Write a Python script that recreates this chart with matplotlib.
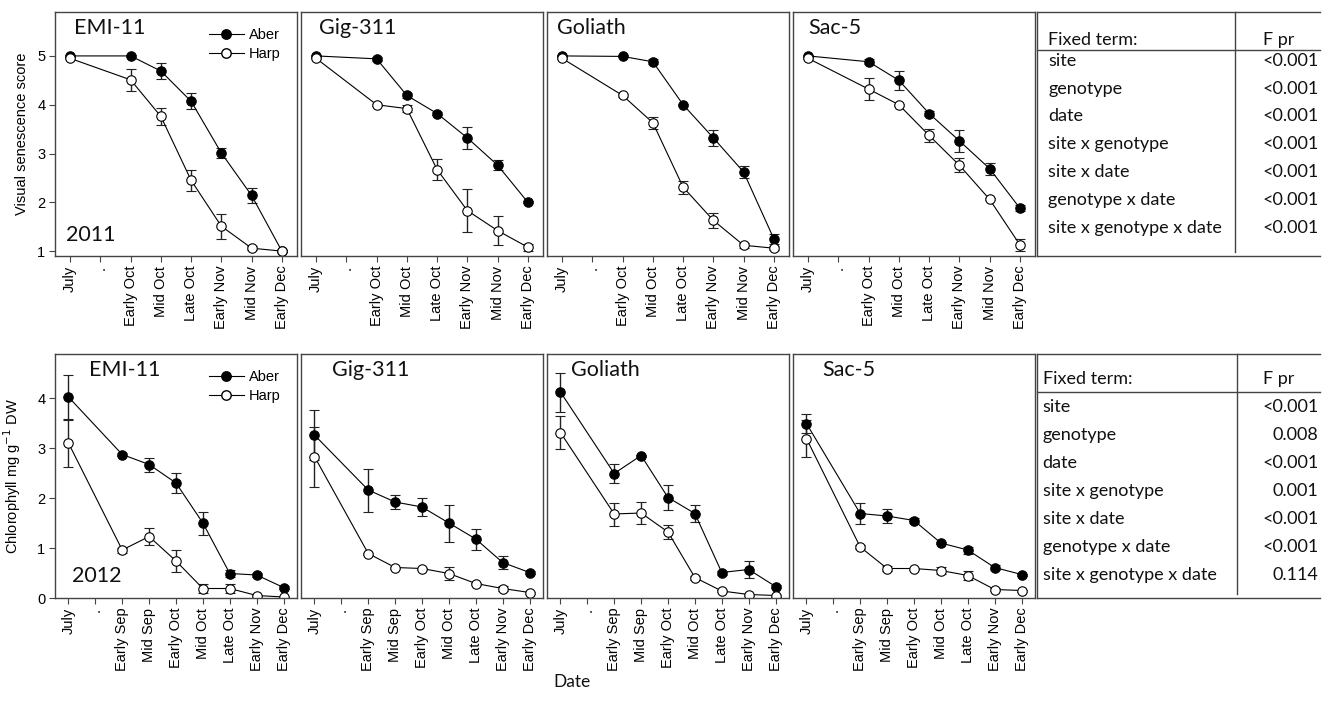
import numpy as np
import matplotlib.pyplot as plt
from matplotlib.lines import Line2D

genotypes = ["EMI-11", "Gig-311", "Goliath", "Sac-5"]
sites = ["Aber", "Harp"]

dates_2011 = ["July", ".", "Early Oct", "Mid Oct", "Late Oct", "Early Nov", "Mid Nov", "Early Dec"]
dates_2012 = ["July", ".", "Early Sep", "Mid Sep", "Early Oct", "Mid Oct", "Late Oct", "Early Nov", "Early Dec"]

# 2011 visual senescence score, one row per genotype
vss_aber = [[5.0, 5.0, 4.69, 4.07, 3.01, 2.14, 1.0],
            [5.0, 4.94, 4.19, 3.82, 3.32, 2.76, 2.0],
            [5.0, 4.99, 4.88, 4.0, 3.32, 2.62, 1.25],
            [5.0, 4.88, 4.5, 3.82, 3.26, 2.69, 1.88]]
vss_aber_err = [[0.02, 0.02, 0.16, 0.16, 0.1, 0.16, 0.02],
                [0.02, 0.04, 0.05, 0.04, 0.22, 0.1, 0.02],
                [0.02, 0.02, 0.05, 0.02, 0.16, 0.12, 0.1],
                [0.02, 0.05, 0.2, 0.05, 0.22, 0.12, 0.06]]
vss_harp = [[4.95, 4.51, 3.76, 2.45, 1.51, 1.06, 1.0],
            [4.95, 4.0, 3.92, 2.67, 1.83, 1.42, 1.08],
            [4.95, 4.19, 3.63, 2.31, 1.63, 1.12, 1.06],
            [4.95, 4.32, 4.0, 3.37, 2.76, 2.06, 1.13]]
vss_harp_err = [[0.02, 0.23, 0.17, 0.21, 0.26, 0.04, 0.02],
                [0.02, 0.02, 0.07, 0.22, 0.44, 0.3, 0.07],
                [0.02, 0.03, 0.12, 0.13, 0.16, 0.05, 0.04],
                [0.02, 0.23, 0.02, 0.14, 0.14, 0.02, 0.12]]

# 2012 chlorophyll (mg g-1 DW)
chl_aber = [[4.02, 2.87, 2.67, 2.30, 1.50, 0.49, 0.46, 0.21],
            [3.26, 2.16, 1.92, 1.82, 1.50, 1.18, 0.71, 0.51],
            [4.12, 2.49, 2.85, 2.01, 1.69, 0.51, 0.57, 0.23],
            [3.49, 1.69, 1.64, 1.55, 1.10, 0.96, 0.61, 0.47]]
chl_aber_err = [[0.44, 0.03, 0.14, 0.2, 0.23, 0.07, 0.04, 0.03],
                [0.5, 0.43, 0.14, 0.18, 0.37, 0.21, 0.13, 0.03],
                [0.39, 0.19, 0.02, 0.25, 0.17, 0.04, 0.17, 0.03],
                [0.19, 0.21, 0.14, 0.05, 0.02, 0.07, 0.05, 0.02]]
chl_harp = [[3.10, 0.96, 1.23, 0.74, 0.19, 0.19, 0.05, 0.02],
            [2.83, 0.89, 0.61, 0.59, 0.49, 0.29, 0.19, 0.11],
            [3.31, 1.68, 1.70, 1.32, 0.41, 0.14, 0.07, 0.05],
            [3.19, 1.02, 0.59, 0.59, 0.55, 0.45, 0.17, 0.15]]
chl_harp_err = [[0.47, 0.05, 0.17, 0.22, 0.09, 0.09, 0.01, 0.01],
                [0.6, 0.02, 0.02, 0.02, 0.13, 0.02, 0.05, 0.02],
                [0.33, 0.23, 0.22, 0.14, 0.04, 0.02, 0.02, 0.02],
                [0.37, 0.04, 0.05, 0.02, 0.07, 0.09, 0.03, 0.02]]

fixed_terms = ["site", "genotype", "date", "site x genotype", "site x date",
               "genotype x date", "site x genotype x date"]
fpr_2011 = ["<0.001", "<0.001", "<0.001", "<0.001", "<0.001", "<0.001", "<0.001"]
fpr_2012 = ["<0.001", "0.008", "<0.001", "0.001", "<0.001", "<0.001", "0.114"]

W, H = 1328, 701
AXIS_FONT = "Liberation Sans"
LABEL_FONT = "Lato"
FRAME = "#444444"

fig = plt.figure(figsize=(W / 100, H / 100), dpi=100)


def px_axes(left, top, right, bottom):
    return fig.add_axes([left / W, 1 - bottom / H, (right - left) / W, (bottom - top) / H])


def draw_panel(ax, dates, aber, aber_err, harp, harp_err, ylim, yticks, first):
    x = [i for i, d in enumerate(dates) if d != "."]
    style = dict(color="black", lw=0.8, ms=6.8, mec="black", mew=0.8,
                 ecolor="#222222", elinewidth=1.0, capsize=3.5, capthick=1.0)
    ax.errorbar(x, aber, yerr=aber_err, marker="o", mfc="black", **style)
    ax.errorbar(x, harp, yerr=harp_err, marker="o", mfc="white", **style)
    ax.set_xlim(-0.5, len(dates) - 0.5)
    ax.set_ylim(*ylim)
    ax.set_xticks(range(len(dates)))
    ax.set_xticklabels(dates, rotation=90, fontsize=10.5, family=AXIS_FONT)
    ax.tick_params(axis="x", direction="out", length=4, width=0.8, color=FRAME, pad=3)
    if first:
        ax.set_yticks(yticks)
        ax.set_yticklabels([str(t) for t in yticks], fontsize=10.5, family=AXIS_FONT)
        ax.tick_params(axis="y", direction="out", length=4, width=0.8, color=FRAME, pad=3)
    else:
        ax.set_yticks([])
    for s in ax.spines.values():
        s.set_color(FRAME)
        s.set_linewidth(1.0)


def add_legend(ax):
    handles = [Line2D([], [], color="black", lw=0.8, marker="o", ms=6.8, mfc=mfc, mec="black")
               for mfc in ["black", "white"]]
    ax.legend(handles, sites, loc="upper right", bbox_to_anchor=(0.975, 0.975), frameon=False,
              prop={"family": AXIS_FONT, "size": 10.5}, handlelength=2.4,
              handletextpad=0.35, labelspacing=0.3, borderaxespad=0.3)


def draw_table(ax, fpr, header_y, line_y, row_y0, row_dy, text_x, sep_x):
    ax.set_xlim(0, 1)
    ax.set_ylim(1, 0)
    ax.axis("off")
    kw = dict(color=FRAME, lw=1.0, clip_on=False)
    ax.plot([0, 0], [0, 1], **kw)
    ax.plot([0, 1], [0, 0], **kw)
    ax.plot([0, 1], [1, 1], **kw)
    ax.plot([0, 1], [line_y, line_y], **kw)
    ax.plot([sep_x, sep_x], [0, 0.985], **kw)
    tk = dict(fontsize=13, family=LABEL_FONT, va="center", color="#111111")
    ax.text(text_x, header_y, "Fixed term:", ha="left", **tk)
    ax.text(0.80, header_y, "F pr", ha="left", **tk)
    for i, (term, p) in enumerate(zip(fixed_terms, fpr)):
        y = row_y0 + i * row_dy
        ax.text(text_x, y, term, ha="left", **tk)
        ax.text(0.995, y, p, ha="right", **tk)


lefts = [55, 301, 547, 793]
top_title_x = [0.079, 0.074, 0.041, 0.062]
bot_title_x = [0.14, 0.13, 0.10, 0.12]

for g in range(4):
    ax = px_axes(lefts[g], 12, lefts[g] + 242, 256)
    draw_panel(ax, dates_2011, vss_aber[g], vss_aber_err[g], vss_harp[g], vss_harp_err[g],
               (0.9, 5.9), [1, 2, 3, 4, 5], g == 0)
    ax.text(top_title_x[g], 0.91, genotypes[g], transform=ax.transAxes,
            fontsize=15.5, family=LABEL_FONT, va="baseline", color="#111111")
    if g == 0:
        ax.text(0.045, 0.06, "2011", transform=ax.transAxes,
                fontsize=15.5, family=LABEL_FONT, va="baseline", color="#111111")
        add_legend(ax)
        ax.set_ylabel("Visual senescence score", fontsize=10.5, family=AXIS_FONT, labelpad=6)

    ax = px_axes(lefts[g], 354, lefts[g] + 242, 598)
    draw_panel(ax, dates_2012, chl_aber[g], chl_aber_err[g], chl_harp[g], chl_harp_err[g],
               (0, 4.88), [0, 1, 2, 3, 4], g == 0)
    ax.text(bot_title_x[g], 0.91, genotypes[g], transform=ax.transAxes,
            fontsize=15.5, family=LABEL_FONT, va="baseline", color="#111111")
    if g == 0:
        ax.text(0.07, 0.066, "2012", transform=ax.transAxes,
                fontsize=15.5, family=LABEL_FONT, va="baseline", color="#111111")
        add_legend(ax)
        ax.set_ylabel("Chlorophyll mg g$^{-1}$ DW", fontsize=10.5, family=AXIS_FONT, labelpad=10)

tab = px_axes(1037, 12, 1320, 256)
draw_table(tab, fpr_2011, 0.115, 0.156, 0.20, 0.114, 0.039, 0.70)
tab = px_axes(1037, 354, 1320, 598)
draw_table(tab, fpr_2012, 0.102, 0.156, 0.217, 0.115, 0.02, 0.705)

fig.text(572 / W, 1 - 682 / H, "Date", ha="center", va="center",
         fontsize=12.5, family=LABEL_FONT, color="#111111")

fig.savefig("out.png", dpi=100, facecolor="white")
